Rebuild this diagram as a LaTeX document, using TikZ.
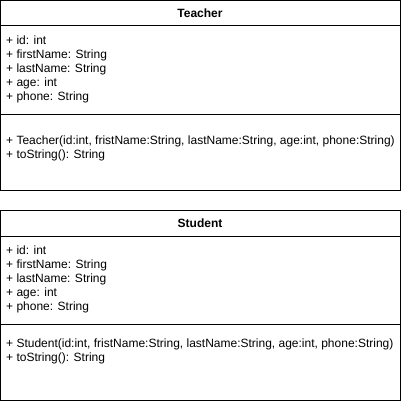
\documentclass[tikz,border=0pt]{standalone}
\usepackage{fontspec}
\setmainfont{Liberation Sans}
\begin{document}
\begin{tikzpicture}[x=1pt,y=-1pt,
  box/.style={draw=black,line width=1pt},
  title/.style={font=\fontsize{12}{14}\selectfont\bfseries,anchor=center,inner sep=0pt},
  member/.style={font=\fontsize{12}{14}\selectfont,anchor=west,inner sep=0pt,align=left}]
\useasboundingbox (0,0) rectangle (401,404);
% Teacher class
\draw[box] (0.5,0.5) rectangle (400,190);
\draw[box] (0.5,26) -- (400,26);
\draw[box] (0.5,114) -- (400,114);
\node[title] (tname) at (200,13) {Teacher};
\node[member] (tattr) at (6,69) {+ id: int\\+ firstName: String\\+ lastName: String\\+ age: int\\+ phone: String};
\node[member] (tops) at (6,148) {+ Teacher(id:int, fristName:String, lastName:String, age:int, phone:String)\\+ toString(): String};
% Student class
\draw[box] (0.5,210) rectangle (400,400);
\draw[box] (0.5,236) -- (400,236);
\draw[box] (0.5,324) -- (400,324);
\node[title] (sname) at (200,223) {Student};
\node[member] (sattr) at (6,279) {+ id: int\\+ firstName: String\\+ lastName: String\\+ age: int\\+ phone: String};
\node[member] (sops) at (6,351) {+ Student(id:int, fristName:String, lastName:String, age:int, phone:String)\\+ toString(): String};
\end{tikzpicture}
\end{document}
